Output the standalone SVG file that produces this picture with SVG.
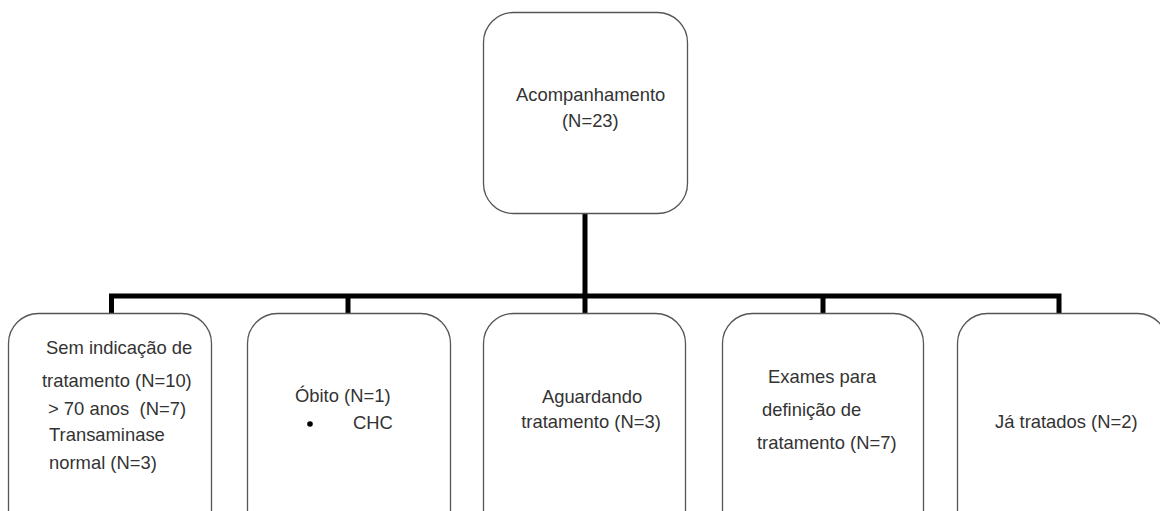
<svg xmlns="http://www.w3.org/2000/svg" width="1160" height="511" viewBox="0 0 1160 511">
  <style>
    .box { fill: #ffffff; stroke: #555555; stroke-width: 1.3; }
    .lbl { font-family: "Liberation Sans", Arial, sans-serif; font-size: 18.4px; fill: #333333; white-space: pre; }
    .wire { fill: none; stroke: #000000; stroke-width: 5; stroke-linejoin: miter; stroke-linecap: butt; }
  </style>
  <rect width="1160" height="511" fill="#ffffff"/>

  <!-- tree connectors -->
  <g id="connectors">
    <path class="wire" d="M585,213 V313"/>
    <path class="wire" d="M111.5,313 V296 H1059 V313"/>
    <path class="wire" d="M348,296 V313"/>
    <path class="wire" d="M823,296 V313"/>
  </g>

  <g id="root">
    <rect class="box" x="483.5" y="12.5" width="204" height="201" rx="30" ry="30"/>
    <text class="lbl" x="516" y="101">Acompanhamento</text>
    <text class="lbl" x="562" y="127">(N=23)</text>
  </g>

  <g id="sem-indicacao">
    <rect class="box" x="8.5" y="313.5" width="203" height="230" rx="30" ry="30"/>
    <text class="lbl" x="46" y="354">Sem indicação de</text>
    <text class="lbl" x="42" y="387">tratamento (N=10)</text>
    <text class="lbl" x="48" y="415" xml:space="preserve">&gt; 70 anos  (N=7)</text>
    <text class="lbl" x="49" y="441">Transaminase</text>
    <text class="lbl" x="49" y="469">normal (N=3)</text>
  </g>

  <g id="obito">
    <rect class="box" x="247.5" y="313.5" width="203" height="230" rx="30" ry="30"/>
    <text class="lbl" x="295" y="402">Óbito (N=1)</text>
    <circle cx="310" cy="424" r="2.8" fill="#000000"/>
    <text class="lbl" x="353" y="429">CHC</text>
  </g>

  <g id="aguardando">
    <rect class="box" x="483.5" y="313.5" width="202" height="230" rx="30" ry="30"/>
    <text class="lbl" x="592" y="403" text-anchor="middle">Aguardando</text>
    <text class="lbl" x="591" y="428" text-anchor="middle">tratamento (N=3)</text>
  </g>

  <g id="exames">
    <rect class="box" x="722.5" y="313.5" width="201" height="230" rx="30" ry="30"/>
    <text class="lbl" x="768" y="383">Exames para</text>
    <text class="lbl" x="762" y="416">definição de</text>
    <text class="lbl" x="757" y="449">tratamento (N=7)</text>
  </g>

  <g id="ja-tratados">
    <rect class="box" x="957.5" y="313.5" width="210" height="230" rx="30" ry="30"/>
    <text class="lbl" x="995" y="428">Já tratados (N=2)</text>
  </g>
</svg>
